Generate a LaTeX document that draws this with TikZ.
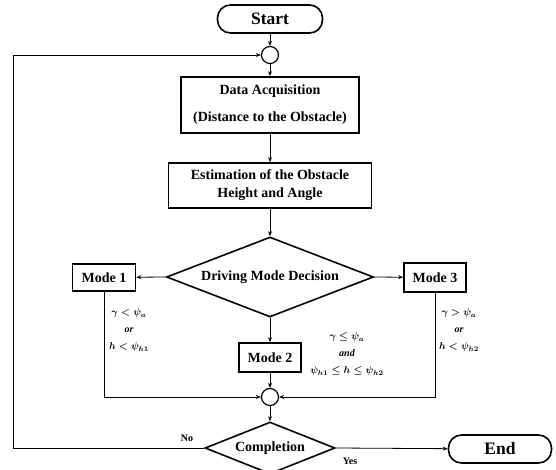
\documentclass[tikz,border=0pt]{standalone}
\usepackage{fontspec}
\setmainfont{Liberation Serif}
\usetikzlibrary{shapes.geometric,arrows.meta}
\begin{document}
\begin{tikzpicture}[x=1pt,y=-1pt,
  every node/.style={font=\bfseries\fontsize{14}{16}\selectfont},
  proc/.style={draw,line width=1.6pt,rectangle,inner sep=2pt,align=center},
  term/.style={draw,line width=1.6pt,rectangle,rounded corners=13pt,font=\bfseries\fontsize{17.5}{19}\selectfont},
  junc/.style={draw,line width=1.2pt,circle,minimum size=17pt,inner sep=0pt},
  decision/.style={draw,line width=1.6pt,diamond,inner sep=0pt},
  cond/.style={align=center,font=\bfseries\itshape\boldmath\fontsize{10}{17}\selectfont},
  small/.style={font=\bfseries\fontsize{10}{12}\selectfont},
  arr/.style={-{Stealth[length=5pt,width=4pt]},line width=0.8pt}]
\useasboundingbox (0,0) rectangle (556,470);

\node[term,minimum width=105pt,minimum height=28pt] (start) at (270,19) {Start};
\node[junc] (c1) at (270,55) {};
\node[proc,minimum width=178pt,minimum height=56pt] (data) at (270,105)
  {Data Acquisition\\[11pt](Distance to the Obstacle)};
\node[proc,minimum width=203pt,minimum height=45pt] (est) at (270,185.5)
  {Estimation of the Obstacle\\[2pt]Height and Angle};
\node[decision,aspect=2.6,minimum width=207pt,minimum height=80pt] (dec) at (270,277) {Driving Mode Decision};
\node[proc,minimum width=63pt,minimum height=27pt] (m1) at (104,277.5) {Mode 1};
\node[proc,minimum width=62pt,minimum height=29pt] (m3) at (435,277.5) {Mode 3};
\node[proc,minimum width=62pt,minimum height=29pt] (m2) at (270,357.5) {Mode 2};
\node[junc] (c2) at (270,397) {};
\node[decision,aspect=2.5,minimum width=130pt,minimum height=52pt] (comp) at (270,448) {Completion};
\node[term,minimum width=103pt,minimum height=28pt] (end) at (500,449) {End};
\coordinate (lp) at (13,448);

\node[cond] (l1) at (129,330) {$\gamma<\psi_a$\\or\\$h<\psi_{h1}$};
\node[cond] (l2) at (347,354) {$\gamma\le\psi_a$\\and\\$\psi_{h1}\le h\le\psi_{h2}$};
\node[cond] (l3) at (459,330) {$\gamma>\psi_a$\\or\\$h<\psi_{h2}$};
\node[small] (no) at (187,438) {No};
\node[small] (yes) at (350,461) {Yes};

\draw[arr] (start) -- (c1);
\draw[arr] (c1) -- (data);
\draw[arr] (data) -- (est);
\draw[arr] (est) -- (dec);
\draw[arr] (dec.west) -- (m1);
\draw[arr] (dec.east) -- (m3);
\draw[arr] (dec.south) -- (m2);
\draw[arr] (m2) -- (c2);
\draw[arr] (m1.south) |- (c2.west);
\draw[arr] (m3.south) |- (c2.east);
\draw[arr] (c2) -- (comp);
\draw[arr] (comp.east) -- (end);
\draw[arr] (comp.west) -- (lp) |- (c1.west);
\end{tikzpicture}
\end{document}
